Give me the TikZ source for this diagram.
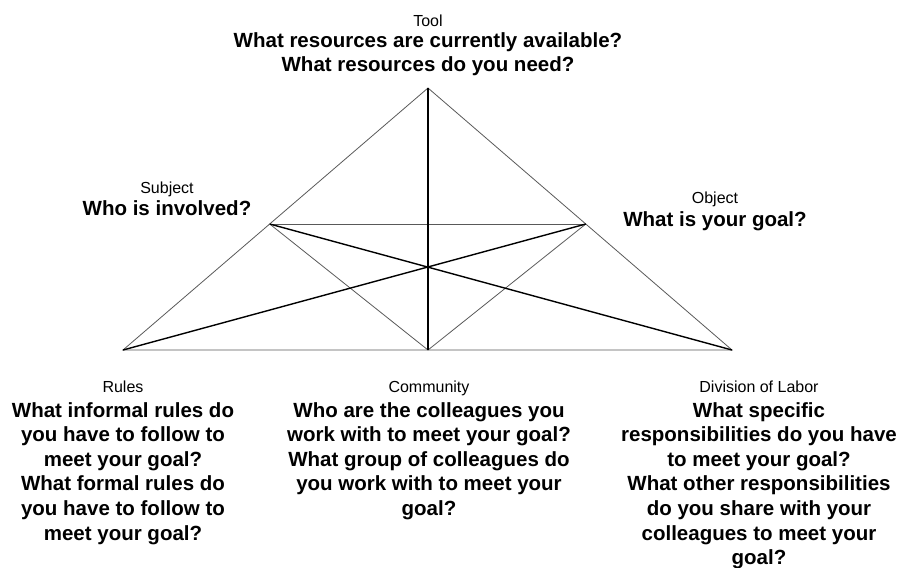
\documentclass[tikz,border=0pt]{standalone}
\usepackage{fontspec}
\setmainfont{Liberation Sans}
\tikzset{
        thin edge/.style={draw=black!65, line width=0.8pt},
        thick edge/.style={draw=black, line width=1.4pt},
        role/.style={inner sep=0pt, anchor=base, font=\fontsize{16}{19}\selectfont},
        question/.style={inner sep=0pt, anchor=base, align=center,
          font=\fontsize{20.5}{24.6}\selectfont\bfseries}
}
\begin{document}
\begin{tikzpicture}[x=1pt,y=-1pt]
        \useasboundingbox (0,0) rectangle (898,568);
        \coordinate (top) at (428,88);
        \coordinate (left) at (123,350);
        \coordinate (right) at (732,350);
        \coordinate (mid) at (428,350);
        \coordinate (subj) at (269.7,224);
        \coordinate (obj) at (585.8,224);
        \draw[thin edge] (left) -- (top) -- (right) -- cycle;
        \draw[thin edge] (subj) -- (obj);
        \draw[thin edge] (subj) -- (mid) -- (obj);
        \draw[thick edge] (top) -- (mid);
        \draw[thick edge] (subj) -- (right);
        \draw[thick edge] (obj) -- (left);
        \node[role] (tool) at (428,26.5) {Tool};
        \node[question] (toolq) at (428,71.6) {What resources are currently available?\\What resources do you need?};
        \node[role] (subject) at (167,193) {Subject};
        \node[question] (subjectq) at (167,215) {Who is involved?};
        \node[role] (object) at (715,203) {Object};
        \node[question] (objectq) at (715,226) {What is your goal?};
        \node[role] (rules) at (123,392) {Rules};
        \node[question] (rulesq) at (123,540) {What informal rules do\\you have to follow to\\meet your goal?\\What formal rules do\\you have to follow to\\meet your goal?};
        \node[role] (community) at (429,392) {Community};
        \node[question] (communityq) at (429,515.4) {Who are the colleagues you\\work with to meet your goal?\\What group of colleagues do\\you work with to meet your\\goal?};
        \node[role] (labor) at (759,392) {Division of Labor};
        \node[question] (laborq) at (759,564.6) {What specific\\responsibilities do you have\\to meet your goal?\\What other responsibilities\\do you share with your\\colleagues to meet your\\goal?};
\end{tikzpicture}
\end{document}
